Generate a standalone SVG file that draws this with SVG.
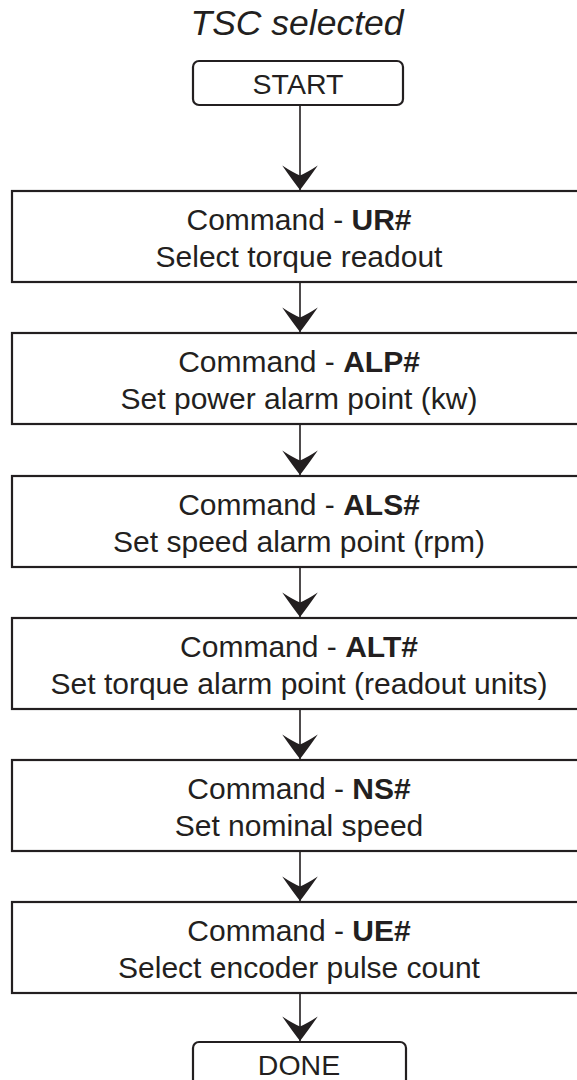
<svg xmlns="http://www.w3.org/2000/svg" width="577" height="1080" viewBox="0 0 577 1080">
<style>
.box{fill:#fff;stroke:#231f20;stroke-width:2.2}
.t{font-family:"Liberation Sans",Arial,sans-serif;font-size:30px;fill:#231f20;text-anchor:middle}
.s{font-size:28.5px}
.b{font-weight:bold}
.ttl{font-family:"Liberation Sans",Arial,sans-serif;font-size:35.5px;font-style:italic;fill:#231f20;text-anchor:middle}
.c{stroke:#231f20;stroke-width:1.6;fill:none;marker-end:url(#ah)}
</style>
<defs>
<marker id="ah" markerUnits="userSpaceOnUse" markerWidth="30" markerHeight="40" viewBox="-24 -18 26 36" refX="0" refY="0" orient="auto">
<path d="M0,0 Q-9,-7 -22,-16 Q-16,-7 -13,0 Q-16,7 -22,16 Q-9,7 0,0 Z" fill="#231f20"/>
</marker>
</defs>
<rect width="577" height="1080" fill="#fff"/>
<text class="ttl" x="297" y="35">TSC selected</text>
<g id="connectors">
<line class="c" x1="300" y1="105" x2="300" y2="190"/>
<line class="c" x1="300" y1="282" x2="300" y2="332"/>
<line class="c" x1="300" y1="424" x2="300" y2="475"/>
<line class="c" x1="300" y1="567" x2="300" y2="617"/>
<line class="c" x1="300" y1="709" x2="300" y2="759"/>
<line class="c" x1="300" y1="851" x2="300" y2="901"/>
<line class="c" x1="300" y1="993" x2="300" y2="1041"/>
</g>
<g id="start">
<rect class="box" x="193" y="61" width="210" height="44" rx="6"/>
<text class="t s" x="298" y="94">START</text>
</g>
<g id="n1">
<rect class="box" x="12" y="191" width="580" height="91"/>
<text class="t" x="299" y="230">Command - <tspan class="b">UR#</tspan></text>
<text class="t" x="299" y="267">Select torque readout</text>
</g>
<g id="n2">
<rect class="box" x="12" y="333" width="580" height="91"/>
<text class="t" x="299" y="372">Command - <tspan class="b">ALP#</tspan></text>
<text class="t" x="299" y="409">Set power alarm point (kw)</text>
</g>
<g id="n3">
<rect class="box" x="12" y="476" width="580" height="91"/>
<text class="t" x="299" y="515">Command - <tspan class="b">ALS#</tspan></text>
<text class="t" x="299" y="552">Set speed alarm point (rpm)</text>
</g>
<g id="n4">
<rect class="box" x="12" y="618" width="580" height="91"/>
<text class="t" x="299" y="657">Command - <tspan class="b">ALT#</tspan></text>
<text class="t" x="299" y="694">Set torque alarm point (readout units)</text>
</g>
<g id="n5">
<rect class="box" x="12" y="760" width="580" height="91"/>
<text class="t" x="299" y="799">Command - <tspan class="b">NS#</tspan></text>
<text class="t" x="299" y="836">Set nominal speed</text>
</g>
<g id="n6">
<rect class="box" x="12" y="902" width="580" height="91"/>
<text class="t" x="299" y="941">Command - <tspan class="b">UE#</tspan></text>
<text class="t" x="299" y="978">Select encoder pulse count</text>
</g>
<g id="done">
<rect class="box" x="193" y="1042" width="213" height="60" rx="6"/>
<text class="t s" x="299" y="1075">DONE</text>
</g>
</svg>
